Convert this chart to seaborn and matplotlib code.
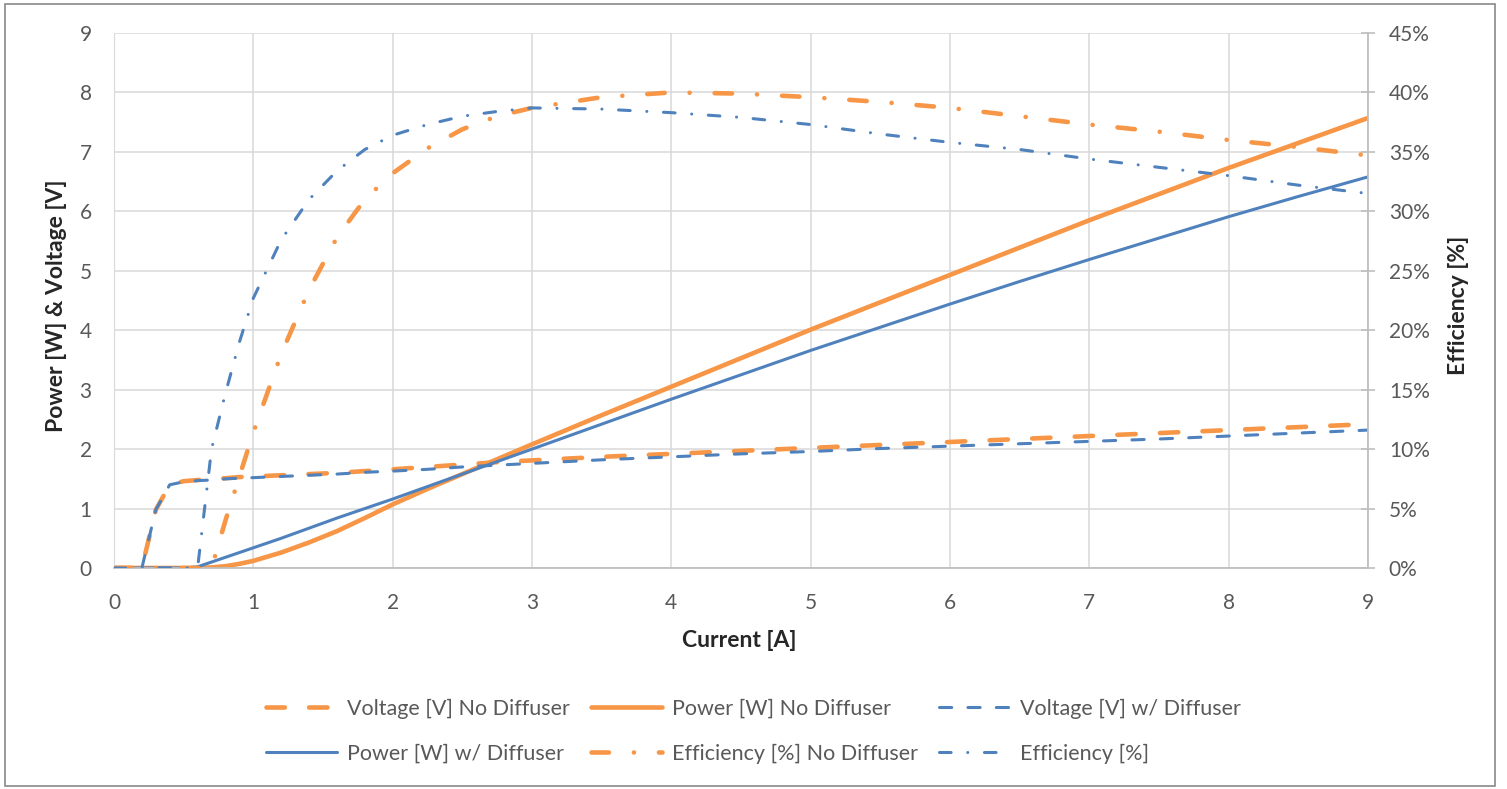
import numpy as np
import pandas as pd
import matplotlib
matplotlib.use('Agg')
import matplotlib.pyplot as plt
import seaborn as sns
from matplotlib.patches import Rectangle
from matplotlib.ticker import PercentFormatter

sns.set_style('white')
plt.rcParams['font.family'] = ['Lato', 'DejaVu Sans']

# 电流 [A]
current = [0, 0.2, 0.3, 0.4, 0.5, 0.6, 0.7, 0.8, 0.9, 1.0, 1.2, 1.4, 1.6, 1.8, 2.0,
           2.25, 2.5, 2.75, 3.0, 3.5, 4.0, 4.5, 5.0, 5.5, 6.0, 6.5, 7.0, 7.5, 8.0, 8.5, 9.0]

# 无扩散器
voltage_no = [0, 0, 0.98, 1.40, 1.46, 1.48, 1.50, 1.51, 1.53, 1.54, 1.56, 1.58, 1.60, 1.63, 1.66,
              1.70, 1.74, 1.78, 1.81, 1.87, 1.92, 1.97, 2.02, 2.07, 2.12, 2.17, 2.22, 2.27, 2.32, 2.37, 2.42]
power_no = [0, 0, 0, 0, 0, 0, 0.01, 0.03, 0.07, 0.12, 0.26, 0.43, 0.62, 0.84, 1.07,
            1.33, 1.58, 1.83, 2.08, 2.57, 3.05, 3.53, 4.01, 4.47, 4.93, 5.39, 5.85, 6.29, 6.73, 7.15, 7.57]
eff_no = [0, 0, 0, 0, 0, 0, 0, 4.0, 7.7, 11.4, 18.0, 23.4, 27.8, 31.0, 33.2,
          35.3, 36.9, 38.0, 38.7, 39.6, 40.0, 39.9, 39.6, 39.2, 38.7, 38.0, 37.3, 36.7, 36.0, 35.4, 34.7]

# 有扩散器
voltage_w = [0, 0, 0.98, 1.40, 1.45, 1.47, 1.48, 1.50, 1.51, 1.52, 1.54, 1.56, 1.58, 1.61, 1.63,
             1.66, 1.70, 1.73, 1.76, 1.82, 1.87, 1.92, 1.96, 2.01, 2.05, 2.09, 2.13, 2.17, 2.22, 2.27, 2.32]
power_w = [0, 0, 0, 0, 0, 0.02, 0.10, 0.18, 0.26, 0.34, 0.50, 0.67, 0.84, 1.00, 1.16,
           1.37, 1.58, 1.79, 2.00, 2.42, 2.84, 3.25, 3.66, 4.05, 4.44, 4.82, 5.19, 5.55, 5.91, 6.25, 6.58]
eff_w = [0, 0, 0, 0, 0, 0, 10.0, 14.7, 19.0, 22.7, 27.6, 31.0, 33.4, 35.2, 36.4,
         37.3, 38.0, 38.4, 38.7, 38.6, 38.3, 37.9, 37.3, 36.5, 35.8, 35.2, 34.4, 33.7, 33.0, 32.2, 31.5]

df = pd.DataFrame({'current': current, 'voltage_no': voltage_no, 'power_no': power_no,
                   'eff_no': eff_no, 'voltage_w': voltage_w, 'power_w': power_w, 'eff_w': eff_w})

orange = '#F79646'
blue = '#4F81BD'
grey_txt = '#595959'
dash = (0, (4, 5.3))
dashdot = (0, (3.8, 5.45, 0.01, 5.45))

fig = plt.figure(figsize=(15.07, 7.89), dpi=100)
ax = fig.add_axes([114 / 1507, 1 - 568 / 789, 1254 / 1507, 535 / 789])
ax2 = ax.twinx()

common = dict(legend=False, dash_capstyle='round', solid_capstyle='round')
sns.lineplot(data=df, x='current', y='voltage_no', ax=ax, color=orange, lw=3.3,
             linestyle=dash, label='Voltage [V] No Diffuser', **common)
sns.lineplot(data=df, x='current', y='power_no', ax=ax, color=orange, lw=3.3,
             label='Power [W] No Diffuser', **common)
sns.lineplot(data=df, x='current', y='voltage_w', ax=ax, color=blue, lw=2.2,
             linestyle=dash, label='Voltage [V] w/ Diffuser', **common)
sns.lineplot(data=df, x='current', y='power_w', ax=ax, color=blue, lw=2.2,
             label='Power [W] w/ Diffuser', **common)
sns.lineplot(data=df, x='current', y='eff_no', ax=ax2, color=orange, lw=3.3,
             linestyle=dashdot, label='Efficiency [%] No Diffuser', **common)
sns.lineplot(data=df, x='current', y='eff_w', ax=ax2, color=blue, lw=2.2,
             linestyle=dashdot, label='Efficiency [%]', **common)

ax.set_xlim(0, 9)
ax.set_ylim(0, 9)
ax2.set_ylim(0, 45)
ax.set_xticks(range(0, 10))
ax.set_yticks(range(0, 10))
ax2.set_yticks(range(0, 50, 5))
ax2.yaxis.set_major_formatter(PercentFormatter(decimals=0))

ax.grid(True, color='#d9d9d9', lw=1.1)
ax.set_axisbelow(True)
for a in (ax, ax2):
    for s in a.spines.values():
        s.set_visible(False)
ax.spines['bottom'].set_visible(True)
ax.spines['bottom'].set_color('#bfbfbf')
ax.spines['bottom'].set_linewidth(1.3)
ax.spines['left'].set_visible(True)
ax.spines['left'].set_color('#d9d9d9')
ax2.spines['right'].set_visible(True)
ax2.spines['right'].set_color('#bfbfbf')
ax2.spines['right'].set_linewidth(1.3)

ax.tick_params(axis='both', length=0, labelsize=15, labelcolor=grey_txt)
ax.tick_params(axis='y', pad=16)
ax.tick_params(axis='x', pad=18)
ax2.tick_params(axis='y', direction='inout', length=10, width=1.2, color='#bfbfbf',
                labelsize=15, labelcolor=grey_txt, pad=10)

ax.set_xlabel('Current [A]', fontsize=16.5, fontweight='bold', va='center')
ax.xaxis.set_label_coords(0.499, -0.135)
ax.set_ylabel('Power [W] & Voltage [V]', fontsize=16.5, fontweight='bold', va='center')
ax.yaxis.set_label_coords(-0.0455, 0.49)
ax2.set_ylabel('Efficiency [%]', fontsize=16.5, fontweight='bold', va='center')
ax2.yaxis.set_label_coords(1.0718, 0.49)

# 图例顺序：按列填充以复现三列两行的排列
h1, l1 = ax.get_legend_handles_labels()
h2, l2 = ax2.get_legend_handles_labels()
hs = h1 + h2
ls = l1 + l2
order = [0, 3, 1, 4, 2, 5]
fig.legend([hs[i] for i in order], [ls[i] for i in order], ncol=3, loc='center',
           bbox_to_anchor=(0.5, 1 - 731 / 789), frameon=False, fontsize=15.5,
           labelcolor=grey_txt, handlelength=3.3, handletextpad=0.45,
           columnspacing=1.0, labelspacing=1.15)

fig.add_artist(Rectangle((5 / 1507, 3 / 789), 1490 / 1507, 782 / 789, transform=fig.transFigure,
                         fill=False, edgecolor='#898989', lw=1.2))

fig.savefig('out.png', dpi=100)
